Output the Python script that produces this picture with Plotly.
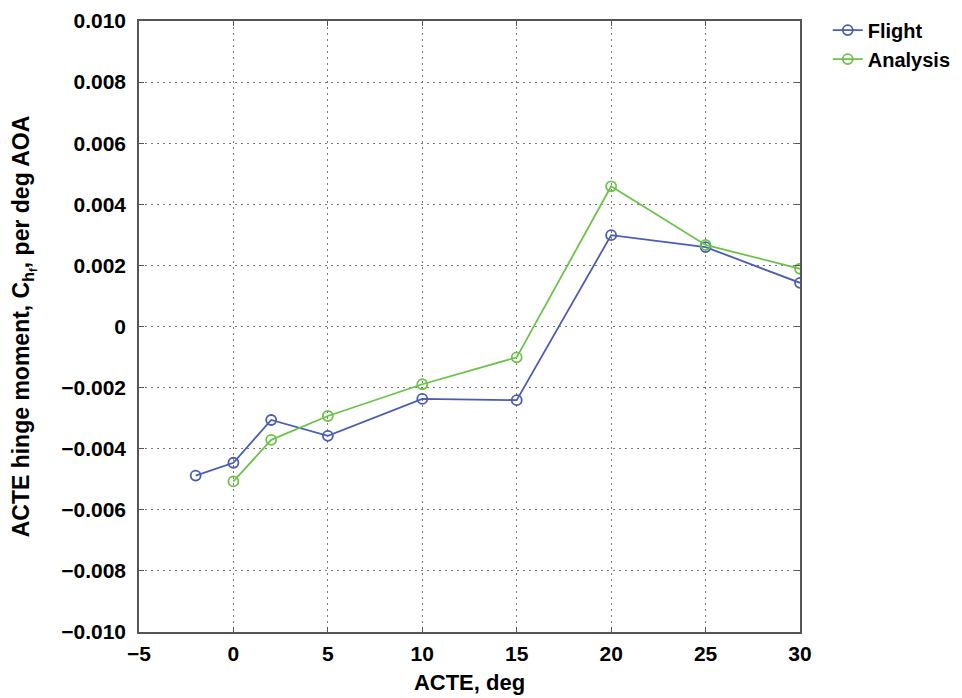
import plotly.graph_objects as go

flight_x = [-2, 0, 2, 5, 10, 15, 20, 25, 30]
flight_y = [-0.00488, -0.00446, -0.00306, -0.00358, -0.00237, -0.00241, 0.00299, 0.00260, 0.00143]
analysis_x = [0, 2, 5, 10, 15, 20, 25, 30]
analysis_y = [-0.00507, -0.00371, -0.00293, -0.00189, -0.00101, 0.00459, 0.00267, 0.00189]

ytick_vals = [0.010, 0.008, 0.006, 0.004, 0.002, 0, -0.002, -0.004, -0.006, -0.008, -0.010]
ytick_text = ["0.010", "0.008", "0.006", "0.004", "0.002", "0", "\u22120.002", "\u22120.004", "\u22120.006", "\u22120.008", "\u22120.010"]
xtick_vals = [-5, 0, 5, 10, 15, 20, 25, 30]
xtick_text = ["\u22125", "0", "5", "10", "15", "20", "25", "30"]

BLUE = "#4a5db3"
GREEN = "#6cc24a"
font = "Liberation Sans, Arial, sans-serif"
FS = 21

fig = go.Figure()
fig.add_trace(go.Scatter(x=flight_x, y=flight_y, name="<b>Flight</b>", mode="lines+markers",
                         line=dict(color=BLUE, width=1.8),
                         marker=dict(symbol="circle-open", size=10, color=BLUE, line=dict(width=1.8))))
fig.add_trace(go.Scatter(x=analysis_x, y=analysis_y, name="<b>Analysis</b>", mode="lines+markers",
                         line=dict(color=GREEN, width=1.8),
                         marker=dict(symbol="circle-open", size=10, color=GREEN, line=dict(width=1.8))))

axis_common = dict(showline=True, linecolor="#555", linewidth=1.5, mirror="ticks",
                   ticks="inside", ticklen=5, tickcolor="#555", automargin=False,
                   ticklabeloverflow="allow",
                   showgrid=True, gridcolor="#777", griddash="1.5px,4.5px", gridwidth=1.3,
                   zeroline=False, tickfont=dict(family=font, size=FS, color="black"))

fig.update_xaxes(range=[-5, 30], tickvals=xtick_vals, ticktext=["<b>%s</b>" % t for t in xtick_text],
                 ticklabelstandoff=2,
                 title=dict(text="<b>ACTE, deg</b>", font=dict(family=font, size=22, color="black"), standoff=11),
                 **axis_common)
fig.update_yaxes(range=[-0.010, 0.010], tickvals=ytick_vals, ticktext=["<b>%s</b>" % t for t in ytick_text],
                 ticklabelstandoff=7,
                 title=dict(text="<b>ACTE hinge moment, C<sub>h<sub>f</sub></sub>, per deg AOA</b>",
                            font=dict(family=font, size=23, color="black"), standoff=26),
                 **axis_common)

fig.update_layout(width=954, height=690, plot_bgcolor="white", paper_bgcolor="white",
                  margin=dict(l=131, r=162, t=13, b=66, autoexpand=False),
                  legend=dict(x=1.042, y=1.017, xanchor="left", yanchor="top",
                              font=dict(family=font, size=20, color="black"),
                              bgcolor="rgba(0,0,0,0)", tracegroupgap=0),
                  showlegend=True)

fig.write_html("out.html")
